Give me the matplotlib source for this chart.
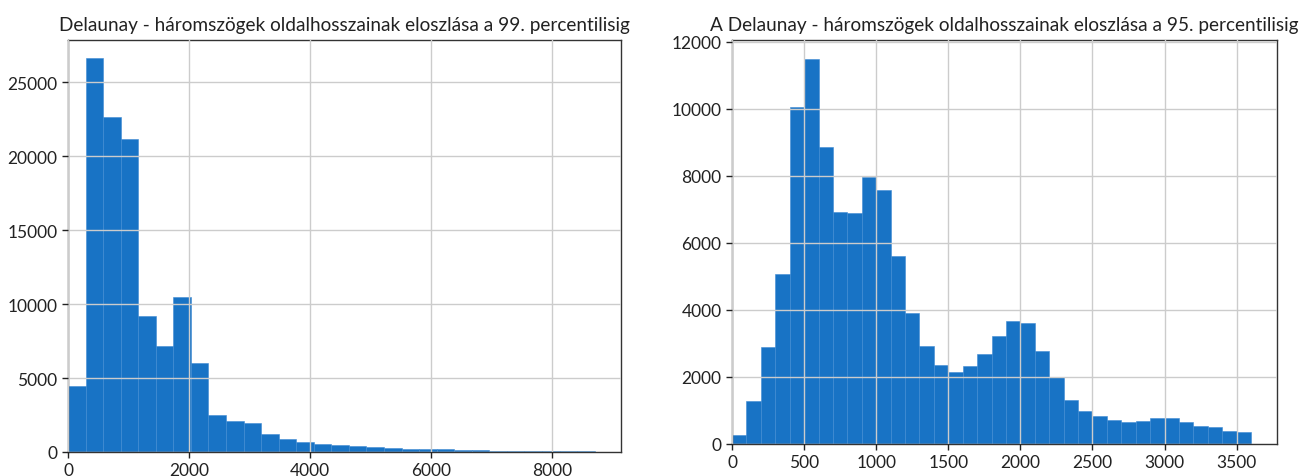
import numpy as np
import matplotlib
matplotlib.use("Agg")
import matplotlib.pyplot as plt

plt.rcParams['font.family'] = ['Lato', 'DejaVu Sans']

# Left histogram: 30 bins up to the 99th percentile
left_title = "Delaunay - háromszögek oldalhosszainak eloszlása a 99. percentilisig"
left_max = 8700
left_counts = [4450, 26600, 22650, 21150, 9200, 7150, 10500, 6000, 2500, 2100,
               1950, 1200, 850, 680, 570, 450, 390, 340, 270, 230,
               200, 180, 140, 130, 100, 90, 80, 70, 60, 50]
left_xticks = [0, 2000, 4000, 6000, 8000]
left_yticks = [0, 5000, 10000, 15000, 20000, 25000]

# Right histogram: 36 bins up to the 95th percentile
right_title = "A Delaunay - háromszögek oldalhosszainak eloszlása a 95. percentilisig"
right_max = 3600
right_counts = [280, 1290, 2900, 5060, 10050, 11480, 8850, 6920, 6900, 7980,
                7570, 5600, 3910, 2920, 2360, 2160, 2340, 2680, 3210, 3680,
                3600, 2770, 2000, 1310, 990, 840, 720, 670, 700, 770,
                780, 670, 550, 520, 390, 350]
right_xticks = [0, 500, 1000, 1500, 2000, 2500, 3000, 3500]
right_yticks = [0, 2000, 4000, 6000, 8000, 10000, 12000]

bar_color = '#1873c5'
edge_color = '#3f8bd3'

fig = plt.figure(figsize=(13.14, 4.77), dpi=100)
axL = fig.add_axes([68/1314, 24/477, 553/1314, 412/477])
axR = fig.add_axes([732/1314, 32/477, 545/1314, 404/477])

def draw(ax, counts, vmax, title, xt, yt, xlim, ylim):
    n = len(counts)
    edges = np.linspace(0, vmax, n + 1)
    centers = (edges[:-1] + edges[1:]) / 2
    ax.hist(centers, bins=edges, weights=counts, color=bar_color,
            edgecolor=edge_color, linewidth=0.4)
    ax.set_xlim(*xlim)
    ax.set_ylim(*ylim)
    ax.set_xticks(xt)
    ax.set_yticks(yt)
    ax.grid(True, color='#cccccc', linewidth=1.0)
    ax.set_axisbelow(False)
    for s in ax.spines.values():
        s.set_color('#333333')
        s.set_linewidth(1.0)
    ax.tick_params(labelsize=12.5, colors='#222222', length=4, width=1)
    ax.set_title(title, fontsize=13.7, color='#222222', pad=7)

draw(axL, left_counts, left_max, left_title, left_xticks, left_yticks,
     (0, 9135), (0, 27850))
draw(axR, right_counts, right_max, right_title, right_xticks, right_yticks,
     (0, 3780), (0, 12054))

fig.savefig('out.png', dpi=100)
